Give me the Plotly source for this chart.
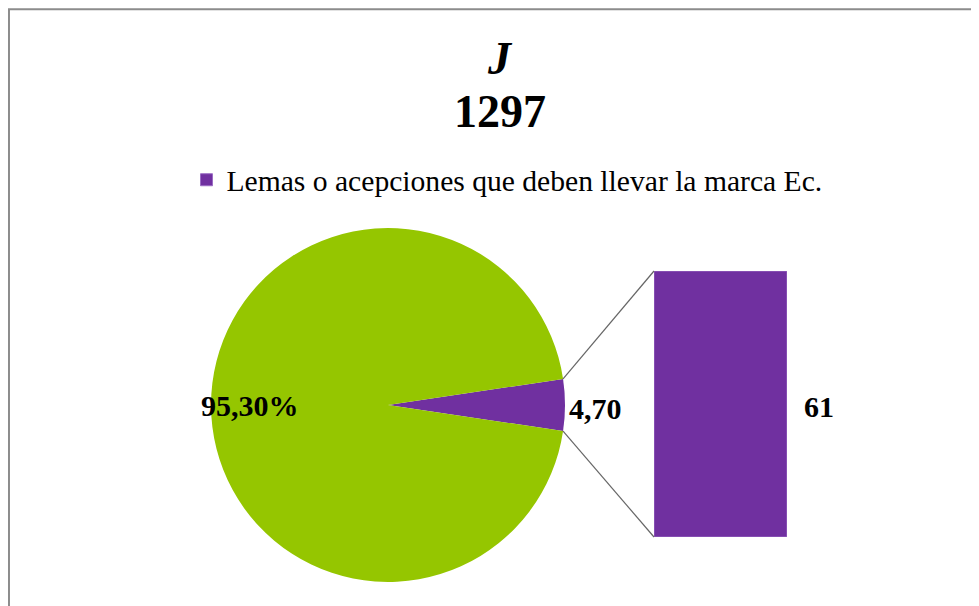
import math

import plotly.graph_objects as go

# data
title_letter = "J"
total = 1297
ec_count = 61
legend_label = "Lemas o acepciones que deben llevar la marca Ec."
pie_labels = ["Ec.", "Resto"]
pie_values = [ec_count, total - ec_count]
pct_labels = ["4,70", "95,30%"]

W, H = 979, 606
GREEN = "#95C600"
PURPLE = "#7030A0"
FONT = "Liberation Serif"
OFF = 8  # page body margin

# geometry in page pixels
cx, cy, r = 388, 405, 177
bar_x0, bar_x1, bar_top, bar_bot = 654, 787, 271, 537


def px(x):
    return (x - OFF) / W


def py(y):
    return 1 - (y - OFF) / H


fig = go.Figure()

half = math.pi * ec_count / total
fig.add_trace(
    go.Pie(
        labels=pie_labels,
        values=pie_values,
        sort=False,
        direction="clockwise",
        rotation=90 - math.degrees(half),
        marker=dict(colors=[PURPLE, GREEN]),
        textinfo="none",
        hoverinfo="label+percent",
        showlegend=False,
        domain=dict(x=[px(cx - r), px(cx + r)], y=[py(cy + r), py(cy - r)]),
    )
)

fig.add_trace(
    go.Bar(
        x=[0],
        y=[ec_count],
        width=1,
        name=legend_label,
        marker=dict(color=PURPLE, line=dict(color="#9B6CC4", width=1)),
        showlegend=True,
    )
)

fig.update_xaxes(domain=[px(bar_x0), px(bar_x1)], range=[-0.5, 0.5], visible=False)
fig.update_yaxes(domain=[py(bar_bot), py(bar_top)], range=[0, ec_count], visible=False)

# connector lines from slice edge to bar corners
ex = cx + r * math.cos(half)
ey_top = cy - r * math.sin(half)
ey_bot = cy + r * math.sin(half)
shapes = [
    dict(type="line", xref="paper", yref="paper",
         x0=px(ex), y0=py(ey_top), x1=px(bar_x0), y1=py(bar_top),
         line=dict(color="#666666", width=1.2)),
    dict(type="line", xref="paper", yref="paper",
         x0=px(ex), y0=py(ey_bot), x1=px(bar_x0), y1=py(bar_bot),
         line=dict(color="#666666", width=1.2)),
    # chart frame
    dict(type="path", xref="paper", yref="paper",
         path="M 0.001,0 L 0.001,0.998 L 1,0.998",
         line=dict(color="#8c8c8c", width=2)),
]


def label(text, x, y, size, xanchor="center"):
    return dict(text=text, x=x, y=y, xref="paper", yref="paper",
                xanchor=xanchor, yanchor="middle", showarrow=False,
                font=dict(family=FONT, size=size, color="black"))


annotations = [
    label(f"<i><b>{title_letter}</b></i>", px(500), py(58), 46),
    label(f"<b>{total}</b>", px(500), py(112), 46),
    label(f"<b>{pct_labels[1]}</b>", px(cx - 0.78 * r), py(cy), 30),
    label(f"<b>{pct_labels[0]}</b>", px(cx + r + 2), py(cy + 3), 30, xanchor="left"),
    dict(text=f"<b>{ec_count}</b>", x=0.5, y=ec_count / 2, xref="x", yref="y",
         xanchor="left", yanchor="middle", xshift=15, yshift=-2,
         showarrow=False, font=dict(family=FONT, size=30, color="black")),
]

fig.update_layout(
    width=W,
    height=H,
    margin=dict(l=0, r=0, t=0, b=0),
    paper_bgcolor="white",
    plot_bgcolor="white",
    shapes=shapes,
    annotations=annotations,
    legend=dict(
        orientation="h",
        x=px(507),
        xanchor="center",
        y=py(180),
        yanchor="middle",
        font=dict(family=FONT, size=29.6, color="black"),
        itemclick=False,
    ),
)

fig.write_html("out.html")
